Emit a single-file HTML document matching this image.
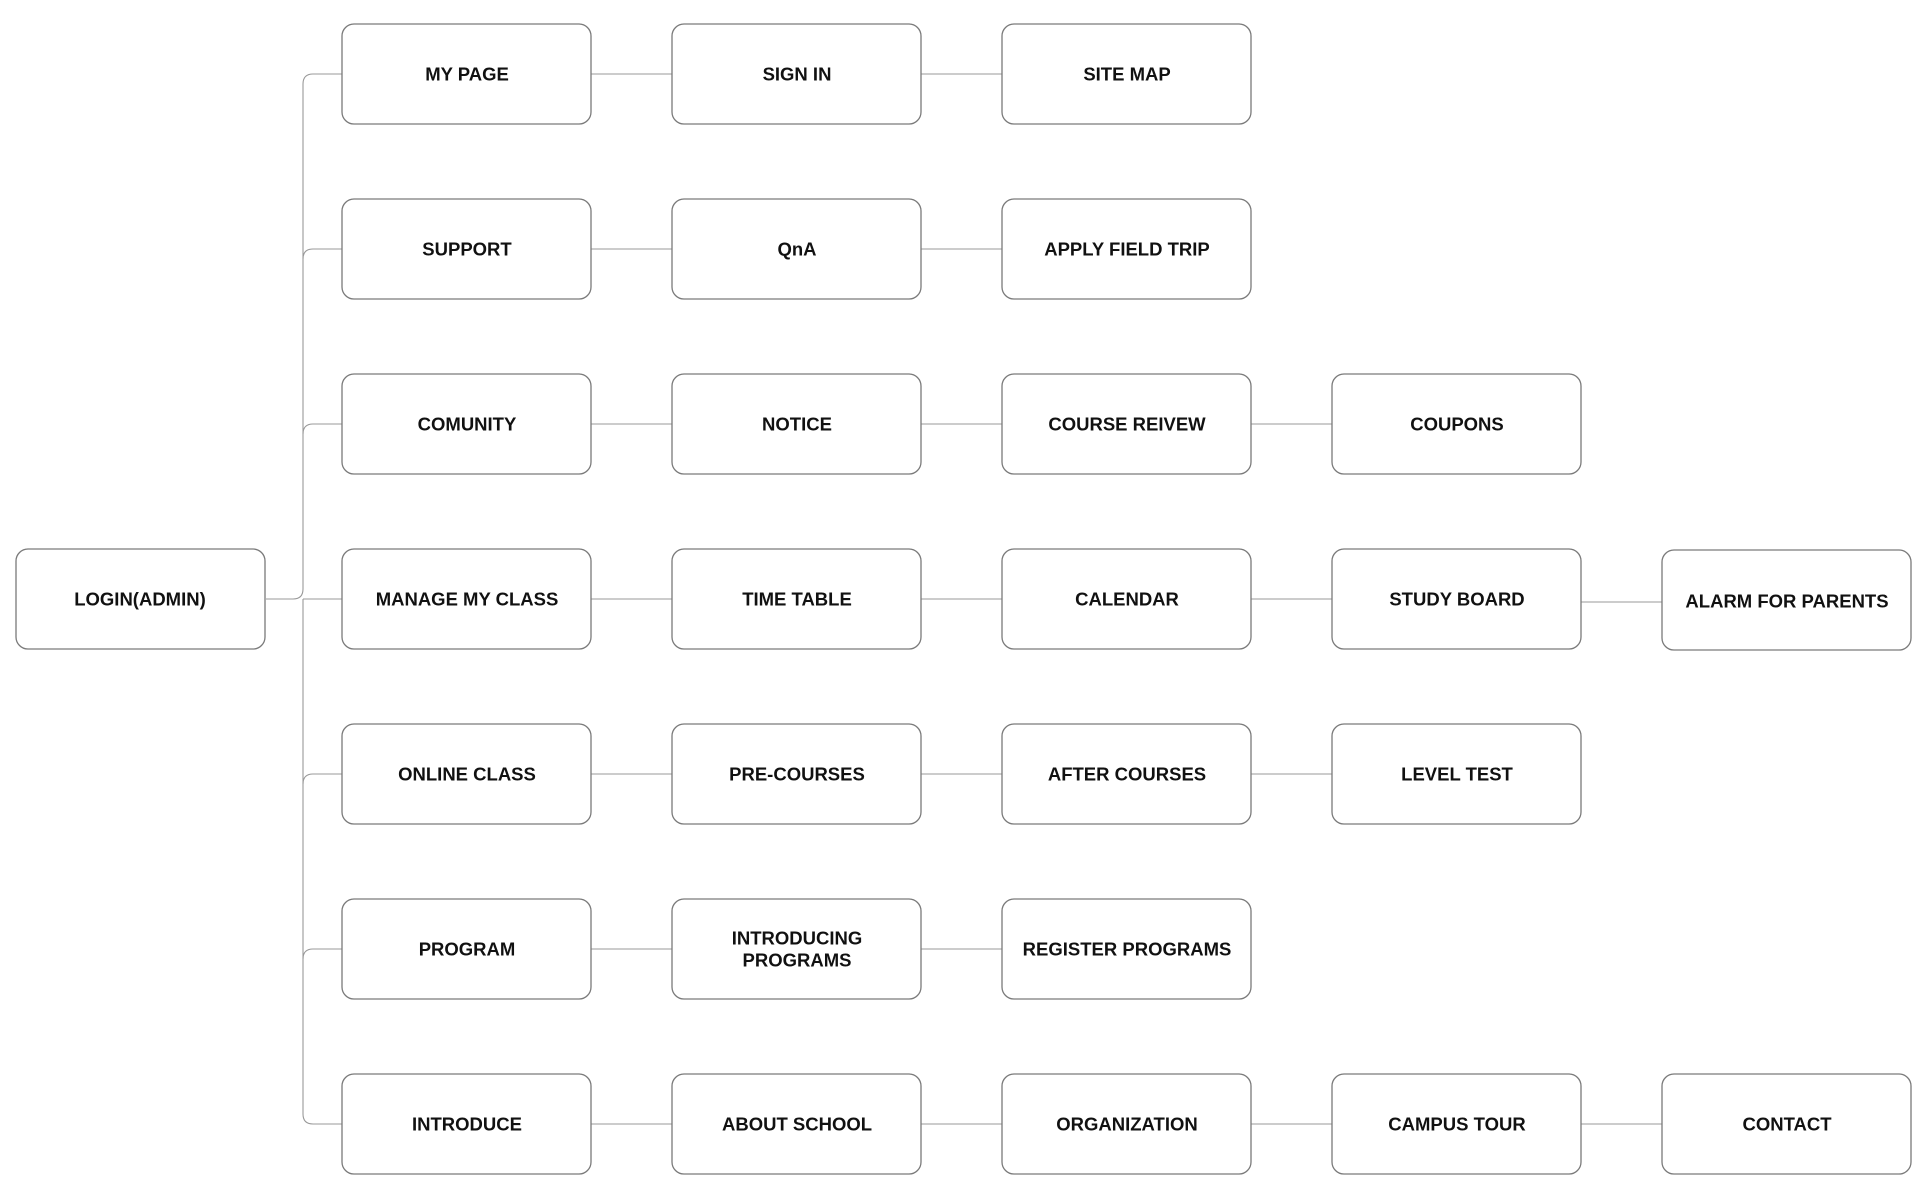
<!DOCTYPE html>
<html><head><meta charset="utf-8"><style>
html,body{margin:0;padding:0;background:#fff;}
svg{display:block;}
text{font-family:"Liberation Sans",sans-serif;font-weight:bold;font-size:18.5px;fill:#111;text-anchor:middle;dominant-baseline:central;}
rect{fill:#fff;stroke:#7a7a7a;stroke-width:1.3;}
path,line{stroke:#999;stroke-width:1.1;fill:none;}
</style></head><body>
<svg width="1932" height="1198" viewBox="0 0 1932 1198" xmlns="http://www.w3.org/2000/svg">
<!-- trunk -->
<path d="M266 599 H293 Q303 599 303 589 V84 Q303 74 313 74 H342"/>
<path d="M303 599 V1114 Q303 1124 313 1124 H342"/>
<path d="M303 259 Q303 249 313 249 H342"/>
<path d="M303 434 Q303 424 313 424 H342"/>
<line x1="303" y1="599" x2="342" y2="599"/>
<path d="M303 784 Q303 774 313 774 H342"/>
<path d="M303 959 Q303 949 313 949 H342"/>
<!-- horizontal connectors -->
<line x1="591" y1="74" x2="672" y2="74"/><line x1="921" y1="74" x2="1002" y2="74"/>
<line x1="591" y1="249" x2="672" y2="249"/><line x1="921" y1="249" x2="1002" y2="249"/>
<line x1="591" y1="424" x2="672" y2="424"/><line x1="921" y1="424" x2="1002" y2="424"/><line x1="1251" y1="424" x2="1332" y2="424"/>
<line x1="591" y1="599" x2="672" y2="599"/><line x1="921" y1="599" x2="1002" y2="599"/><line x1="1251" y1="599" x2="1332" y2="599"/><line x1="1581" y1="602" x2="1662" y2="602"/>
<line x1="591" y1="774" x2="672" y2="774"/><line x1="921" y1="774" x2="1002" y2="774"/><line x1="1251" y1="774" x2="1332" y2="774"/>
<line x1="591" y1="949" x2="672" y2="949"/><line x1="921" y1="949" x2="1002" y2="949"/>
<line x1="591" y1="1124" x2="672" y2="1124"/><line x1="921" y1="1124" x2="1002" y2="1124"/><line x1="1251" y1="1124" x2="1332" y2="1124"/><line x1="1581" y1="1124" x2="1662" y2="1124"/>
<!-- boxes -->
<g>
<rect x="16" y="549" width="249" height="100" rx="12"/><text x="140" y="599">LOGIN(ADMIN)</text>

<rect x="342" y="24" width="249" height="100" rx="12"/><text x="467" y="74">MY PAGE</text>
<rect x="672" y="24" width="249" height="100" rx="12"/><text x="797" y="74">SIGN IN</text>
<rect x="1002" y="24" width="249" height="100" rx="12"/><text x="1127" y="74">SITE MAP</text>

<rect x="342" y="199" width="249" height="100" rx="12"/><text x="467" y="249">SUPPORT</text>
<rect x="672" y="199" width="249" height="100" rx="12"/><text x="797" y="249">QnA</text>
<rect x="1002" y="199" width="249" height="100" rx="12"/><text x="1127" y="249">APPLY FIELD TRIP</text>

<rect x="342" y="374" width="249" height="100" rx="12"/><text x="467" y="424">COMUNITY</text>
<rect x="672" y="374" width="249" height="100" rx="12"/><text x="797" y="424">NOTICE</text>
<rect x="1002" y="374" width="249" height="100" rx="12"/><text x="1127" y="424">COURSE REIVEW</text>
<rect x="1332" y="374" width="249" height="100" rx="12"/><text x="1457" y="424">COUPONS</text>

<rect x="342" y="549" width="249" height="100" rx="12"/><text x="467" y="599">MANAGE MY CLASS</text>
<rect x="672" y="549" width="249" height="100" rx="12"/><text x="797" y="599">TIME TABLE</text>
<rect x="1002" y="549" width="249" height="100" rx="12"/><text x="1127" y="599">CALENDAR</text>
<rect x="1332" y="549" width="249" height="100" rx="12"/><text x="1457" y="599">STUDY BOARD</text>
<rect x="1662" y="550" width="249" height="100" rx="12"/><text x="1787" y="601">ALARM FOR PARENTS</text>

<rect x="342" y="724" width="249" height="100" rx="12"/><text x="467" y="774">ONLINE CLASS</text>
<rect x="672" y="724" width="249" height="100" rx="12"/><text x="797" y="774">PRE-COURSES</text>
<rect x="1002" y="724" width="249" height="100" rx="12"/><text x="1127" y="774">AFTER COURSES</text>
<rect x="1332" y="724" width="249" height="100" rx="12"/><text x="1457" y="774">LEVEL TEST</text>

<rect x="342" y="899" width="249" height="100" rx="12"/><text x="467" y="949">PROGRAM</text>
<rect x="672" y="899" width="249" height="100" rx="12"/><text x="797" y="938">INTRODUCING</text><text x="797" y="960">PROGRAMS</text>
<rect x="1002" y="899" width="249" height="100" rx="12"/><text x="1127" y="949">REGISTER PROGRAMS</text>

<rect x="342" y="1074" width="249" height="100" rx="12"/><text x="467" y="1124">INTRODUCE</text>
<rect x="672" y="1074" width="249" height="100" rx="12"/><text x="797" y="1124">ABOUT SCHOOL</text>
<rect x="1002" y="1074" width="249" height="100" rx="12"/><text x="1127" y="1124">ORGANIZATION</text>
<rect x="1332" y="1074" width="249" height="100" rx="12"/><text x="1457" y="1124">CAMPUS TOUR</text>
<rect x="1662" y="1074" width="249" height="100" rx="12"/><text x="1787" y="1124">CONTACT</text>
</g>
</svg>
</body></html>
